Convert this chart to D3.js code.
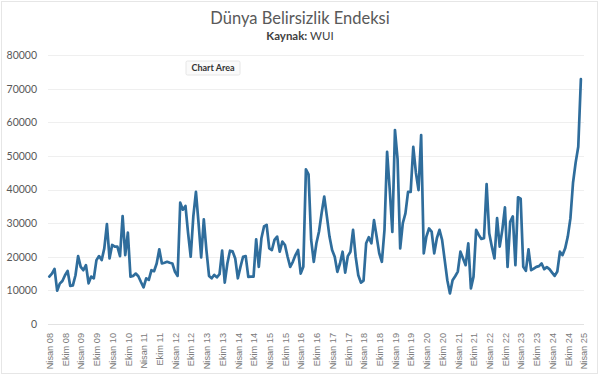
<!DOCTYPE html>
<html>
<head>
<meta charset="utf-8">
<script src="https://cdn.jsdelivr.net/npm/d3@7"></script>
<style>
  html, body { margin: 0; padding: 0; background: #ffffff; }
  svg { display: block; }
</style>
</head>
<body>
<svg id="chart" width="600" height="376"></svg>
<script>
// ---- Data (monthly, Nisan 2008 onwards) ----
const values = [
  14100,15000,16400,9900,12000,12800,14500,15800,11300,11500,14500,20200,
  17000,16000,17500,12100,14100,13600,19000,20200,19000,22500,29700,19500,
  23500,23000,23000,20200,32100,20500,27200,14100,14300,15000,14200,12500,
  10900,13600,13100,16000,15700,18000,22200,18000,18200,18500,18200,18000,
  15500,14300,36100,34000,35100,27000,20000,32000,39300,30000,19800,31100,
  22000,14300,13600,14600,13900,14800,21800,12300,18000,21800,21600,19500,
  13600,17000,20000,20200,14000,14100,14100,25200,17000,25500,29000,29500,
  22500,22000,25000,26000,21500,24500,23500,20000,17000,18500,20500,22000,
  15000,17000,46000,44500,25000,18500,24000,27500,33000,37900,32000,26000,
  22000,20000,15500,18000,21500,15300,20200,21500,28000,20000,14500,12300,
  12900,24000,25800,24000,30900,26000,21000,18500,28000,51200,40000,27400,
  57700,49000,22500,30000,32900,39300,39300,52700,45000,39800,56200,21000,
  26000,28400,27500,21000,25500,28000,25000,19000,13000,9100,13000,14200,
  15600,21500,19500,17500,24000,10600,14100,28000,26500,25300,25500,41600,
  27000,23000,19500,31500,23000,28000,34700,17000,30400,32000,17500,37700,
  37300,17000,15800,22200,16000,16500,17000,17200,18000,16300,16900,16300,
  15300,14300,15600,21500,20500,22500,26000,31400,42000,48000,52700,72800
];
const xTickLabels = [
  "Nisan 08","Ekim 08","Nisan 09","Ekim 09","Nisan 10","Ekim 10","Nisan 11","Ekim 11",
  "Nisan 12","Ekim 12","Nisan 13","Ekim 13","Nisan 14","Ekim 14","Nisan 15","Ekim 15",
  "Nisan 16","Ekim 16","Nisan 17","Ekim 17","Nisan 18","Ekim 18","Nisan 19","Ekim 19",
  "Nisan 20","Ekim 20","Nisan 21","Ekim 21","Nisan 22","Ekim 22","Nisan 23","Ekim 23",
  "Nisan 24","Ekim 24","Nisan 25"
];
const yTicks = [0,10000,20000,30000,40000,50000,60000,70000,80000];
const labelStep = 6; // months between x labels
const titleText = "Dünya Belirsizlik Endeksi";
const subtitleBold = "Kaynak:";
const subtitleRest = " WUI";

// ---- Layout ----
const svg = d3.select("#chart");
const W = 600, H = 376;
const plot = { left: 48, right: 584, top: 55, bottom: 324 };

svg.append("rect")
  .attr("x", 1.5).attr("y", 1.5).attr("width", W - 4).attr("height", H - 4)
  .attr("fill", "#fff").attr("stroke", "#e6e6e6").attr("stroke-width", 1);

const nMonths = (xTickLabels.length - 1) * labelStep; // 204
const x = d3.scaleLinear().domain([0, nMonths]).range([49.3, 583.5]);
const y = d3.scaleLinear().domain([0, 80000]).range([plot.bottom, plot.top]);

// gridlines
svg.append("g").selectAll("line").data(yTicks).join("line")
  .attr("x1", plot.left).attr("x2", plot.right)
  .attr("y1", d => Math.round(y(d)) + 0.5).attr("y2", d => Math.round(y(d)) + 0.5)
  .attr("stroke", d => d === 0 ? "#e2e2e2" : "#efefef").attr("stroke-width", 1);

// y axis labels
const yAxis = d3.axisLeft(y).tickValues(yTicks).tickSize(0).tickPadding(0)
  .tickFormat(d3.format("d"));
const gy = svg.append("g").attr("transform", `translate(37,0)`).call(yAxis);
gy.select(".domain").remove();
gy.selectAll("text")
  .attr("font-family", "Lato, 'Open Sans', sans-serif")
  .attr("font-size", "10.5px")
  .attr("fill", "#595959");

// x axis labels (rotated)
const tickIdx = xTickLabels.map((_, i) => i * labelStep);
const xAxis = d3.axisBottom(x).tickValues(tickIdx).tickSize(0)
  .tickFormat((d, i) => xTickLabels[i]);
const gx = svg.append("g").attr("transform", `translate(0,${plot.bottom})`).call(xAxis);
gx.select(".domain").remove();
gx.selectAll("text")
  .attr("font-family", "'Liberation Sans', Arial, sans-serif")
  .attr("font-size", "9.2px")
  .attr("fill", "#7a7a7a")
  .attr("text-anchor", "end")
  .attr("dy", "0.35em")
  .attr("transform", "translate(0,9) rotate(-90)")
  .attr("x", 0).attr("y", 0);

// line
const line = d3.line()
  .x((d, i) => x(i))
  .y(d => y(d))
  .curve(d3.curveLinear);
svg.append("path")
  .datum(values)
  .attr("d", line)
  .attr("fill", "none")
  .attr("stroke", "#2f6d9c")
  .attr("stroke-width", 2.7)
  .attr("stroke-linejoin", "round")
  .attr("stroke-linecap", "round");

// title
svg.append("text")
  .attr("x", 300).attr("y", 24)
  .attr("text-anchor", "middle")
  .attr("font-family", "Lato, 'Open Sans', sans-serif")
  .attr("font-size", "16.5px")
  .attr("fill", "#595959")
  .text(titleText);

const sub = svg.append("text")
  .attr("x", 300).attr("y", 40)
  .attr("text-anchor", "middle")
  .attr("font-family", "Lato, 'Open Sans', sans-serif")
  .attr("font-size", "11.5px")
  .attr("fill", "#404040");
sub.append("tspan").attr("font-weight", "bold").text(subtitleBold);
sub.append("tspan").text(subtitleRest);

// "Chart Area" tooltip
const tip = svg.append("g").attr("transform", "translate(186,61)");
tip.append("rect")
  .attr("width", 54).attr("height", 14).attr("rx", 1.5)
  .attr("fill", "#fafafa").attr("stroke", "#e6e6e6");
tip.append("text")
  .attr("x", 27).attr("y", 10.2)
  .attr("text-anchor", "middle")
  .attr("font-family", "Lato, 'Open Sans', sans-serif")
  .attr("font-size", "9px")
  .attr("font-weight", "bold")
  .attr("fill", "#333333")
  .text("Chart Area");
</script>
</body>
</html>
